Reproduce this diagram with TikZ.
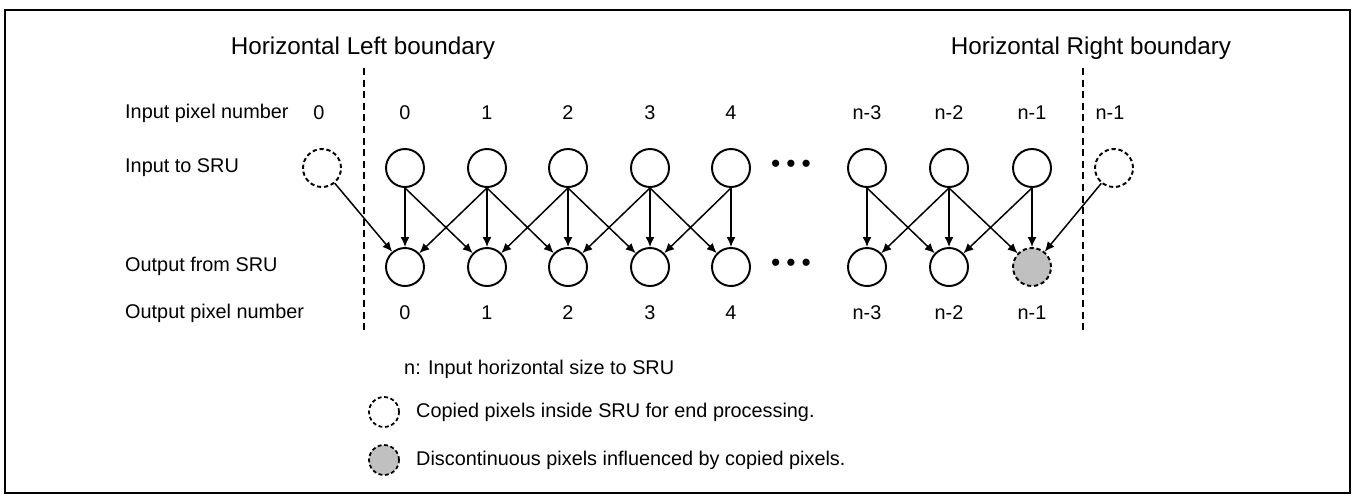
\documentclass[tikz,border=0pt]{standalone}
\usepackage{fontspec}
\setmainfont{Liberation Sans}
\usepackage{tikz}
\usetikzlibrary{arrows.meta}
\definecolor{pixgray}{RGB}{192, 192, 192}

\tikzset{
  pix/.style={circle, draw, line width=1.1pt, minimum size=0.76cm, inner sep=0pt},
  copypix/.style={pix, dash pattern=on 2.4pt off 1.6pt},
  legpix/.style={circle, draw, line width=1pt, minimum size=0.6cm, inner sep=0pt, dash pattern=on 2.2pt off 1.5pt},
  lab/.style={font=\fontsize{11.3}{13}\selectfont},
  ttl/.style={font=\fontsize{13.8}{16}\selectfont},
  dots/.style={font=\fontsize{15}{15}\selectfont, inner sep=0pt}
}

\begin{document}
\begin{tikzpicture}[x=0.02cm, y=-0.02cm]

  \useasboundingbox (0, 0) rectangle (1354, 495);
  \draw[line width=1.1pt] (5, 10) rectangle (1350, 493);

  % boundaries
  \coordinate (lbtop) at (364, 68);
  \coordinate (lbbot) at (364, 332);
  \coordinate (rbtop) at (1083, 68);
  \coordinate (rbbot) at (1083, 332);
  \draw[line width=0.9pt, dash pattern=on 4pt off 2.6pt] (lbtop) -- (lbbot);
  \draw[line width=0.9pt, dash pattern=on 4pt off 2.6pt] (rbtop) -- (rbbot);
  \node[ttl] (lbname) at (363, 48) {Horizontal Left boundary};
  \node[ttl] (rbname) at (1091, 48) {Horizontal Right boundary};

  % row names
  \node[lab, anchor=west] (rowinnum) at (119, 113) {Input pixel number};
  \node[lab, anchor=west] (rowin) at (119, 168) {Input to SRU};
  \node[lab, anchor=west] (rowout) at (119, 266) {Output from SRU};
  \node[lab, anchor=west] (rowoutnum) at (119, 313) {Output pixel number};

  % pixels
  \foreach \i/\x/\n in {0/405/0, 1/487/1, 2/568/2, 3/650/3, 4/731/4, 5/867/n-3, 6/949/n-2, 7/1032/n-1} {
    \node[lab] (innum\i) at (\x, 113) {\n};
    \node[pix] (in\i) at (\x, 168) {};
    \node[lab] (outnum\i) at (\x, 313) {\n};
  }
  \foreach \i/\x in {0/405, 1/487, 2/568, 3/650, 4/731, 5/867, 6/949} {
    \node[pix] (out\i) at (\x, 267) {};
  }
  \node[copypix, fill=pixgray] (out7) at (1032, 267) {};

  \node[lab] (cpnumL) at (319, 113) {0};
  \node[copypix] (cpL) at (322, 168) {};
  \node[lab] (cpnumR) at (1110, 113) {n-1};
  \node[copypix] (cpR) at (1114, 168) {};

  \node[dots] (dotsin) at (791, 166) {\textbullet\kern3.4pt\textbullet\kern3.4pt\textbullet};
  \node[dots] (dotsout) at (791, 265) {\textbullet\kern3.4pt\textbullet\kern3.4pt\textbullet};

  % connections
  \begin{scope}[->, >={Latex[length=5.6pt, width=5pt]}, line width=0.85pt]
    \foreach \i in {0, ..., 7} {
      \draw (in\i.south) -- (out\i);
    }
    \foreach \i/\j in {0/1, 1/2, 2/3, 3/4, 5/6, 6/7} {
      \draw (in\i.south) -- (out\j);
    }
    \foreach \i/\j in {1/0, 2/1, 3/2, 4/3, 6/5, 7/6} {
      \draw (in\i.south) -- (out\j);
    }
    \draw (cpL) -- (out0);
    \draw (cpR) -- (out7);
  \end{scope}

  % legend
  \node[lab, anchor=west] (nsize) at (398, 369) {n: Input horizontal size to SRU};
  \node[legpix] (legcp) at (384, 412) {};
  \node[lab, anchor=west] (legcptxt) at (410, 412) {Copied pixels inside SRU for end processing.};
  \node[legpix, fill=pixgray] (legdc) at (384, 460) {};
  \node[lab, anchor=west] (legdctxt) at (410, 460) {Discontinuous pixels influenced by copied pixels.};

\end{tikzpicture}
\end{document}
